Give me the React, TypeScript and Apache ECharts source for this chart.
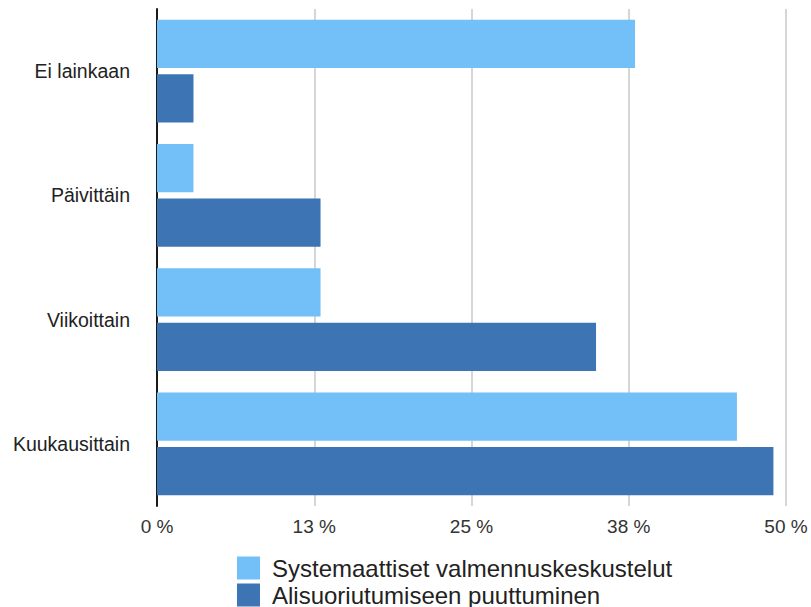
import React, { useEffect, useRef } from "react";
import * as echarts from "echarts";

// Survey categories (top to bottom) and the share of responses per series, in percent
const categories = ["Ei lainkaan", "Päivittäin", "Viikoittain", "Kuukausittain"];
const seriesNames = ["Systemaattiset valmennuskeskustelut", "Alisuoriutumiseen puuttuminen"];
const systematicTalks = [38.0, 2.9, 13.0, 46.1];
const underperformance = [2.9, 13.0, 34.9, 49.0];
const seriesColors = ["#73bff8", "#3d74b4"];

const axisMax = 50;
const axisStep = 12.5;

export default function App() {
  const ref = useRef<HTMLDivElement>(null);

  useEffect(() => {
    if (!ref.current) return;
    const chart = echarts.init(ref.current, undefined, { renderer: "svg" });
    const font = "'Liberation Sans', Arial, Helvetica, sans-serif";
    chart.setOption({
      animation: false,
      backgroundColor: "#ffffff",
      textStyle: { fontFamily: font },
      grid: { left: 157, right: 25, top: 9, bottom: 101, containLabel: false },
      legend: {
        orient: "vertical",
        left: 237,
        top: 556,
        height: 80,
        padding: 0,
        itemWidth: 23,
        itemHeight: 23,
        itemGap: 3,
        icon: "rect",
        selectedMode: false,
        textStyle: {
          fontSize: 24,
          lineHeight: 24,
          color: "#222",
          fontFamily: font,
          padding: [0, 0, 0, 7],
        },
        data: seriesNames,
      },
      xAxis: {
        type: "value",
        min: 0,
        max: axisMax,
        interval: axisStep,
        axisLine: { show: false },
        axisTick: { show: false },
        axisLabel: {
          formatter: (v: number) => `${Math.round(v)} %`,
          fontSize: 19,
          color: "#333",
          margin: 11,
          fontFamily: font,
        },
        splitLine: { show: true, lineStyle: { color: "#c8c8c8", width: 1.5 } },
      },
      yAxis: {
        type: "category",
        data: categories,
        inverse: true,
        axisLine: { show: true, lineStyle: { color: "#1a1a1a", width: 2 } },
        axisTick: { show: false },
        axisLabel: { fontSize: 19.5, color: "#222", margin: 27, fontFamily: font },
        splitLine: { show: false },
      },
      series: [
        {
          name: seriesNames[0],
          type: "bar",
          data: systematicTalks,
          itemStyle: { color: seriesColors[0] },
          barGap: "13%",
          barCategoryGap: "17.5%",
        },
        {
          name: seriesNames[1],
          type: "bar",
          data: underperformance,
          itemStyle: { color: seriesColors[1] },
          barGap: "13%",
          barCategoryGap: "17.5%",
        },
      ],
    });
    return () => chart.dispose();
  }, []);

  return <div ref={ref} style={{ width: 811, height: 607, position: "absolute", left: 0, top: 0 }} />;
}
